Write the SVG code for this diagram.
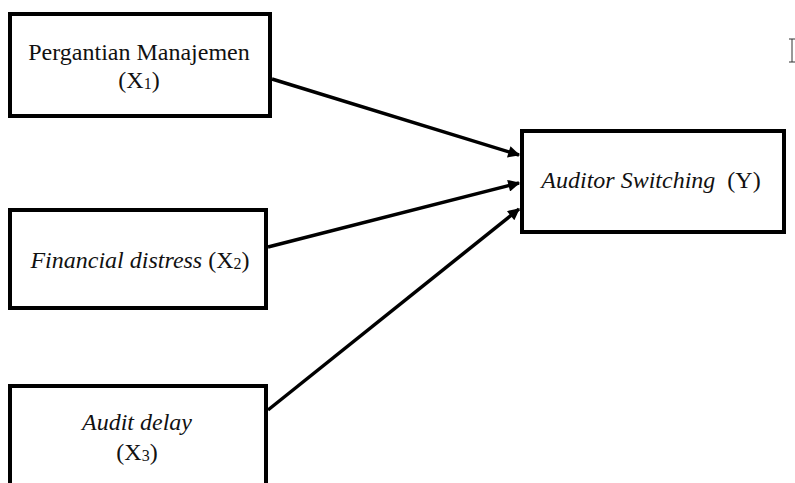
<svg xmlns="http://www.w3.org/2000/svg" width="795" height="483" viewBox="0 0 795 483">
<style>
.box{fill:#fff;stroke:#000;stroke-width:4}
.lbl{font-family:"Liberation Serif","Times New Roman",serif;font-size:24px;fill:#111;text-anchor:middle}
.it{font-style:italic}
.sub{font-size:16px}
.conn{stroke:#000;stroke-width:3.5;fill:none;marker-end:url(#ah)}
</style>
<defs>
<marker id="ah" viewBox="0 0 10 10" refX="9" refY="5" markerWidth="4" markerHeight="3.4" orient="auto" markerUnits="strokeWidth">
<path d="M0,0 L10,5 L0,10 z" fill="#000"/>
</marker>
</defs>
<rect width="795" height="483" fill="#fff"/>
<g id="connectors">
<line class="conn" x1="272" y1="79" x2="519" y2="155"/>
<line class="conn" x1="268" y1="247" x2="519" y2="183"/>
<line class="conn" x1="268" y1="410" x2="519" y2="209"/>
</g>
<g id="node-x1">
<rect class="box" x="10" y="14" width="260" height="102"/>
<text class="lbl" x="139" y="60">Pergantian Manajemen</text>
<text class="lbl" x="139" y="88">(X<tspan class="sub" dy="1">1</tspan><tspan dy="-1">)</tspan></text>
</g>
<g id="node-x2">
<rect class="box" x="10" y="210" width="256" height="98"/>
<text class="lbl" x="140" y="268"><tspan class="it">Financial distress</tspan> (X<tspan class="sub" dy="1">2</tspan><tspan dy="-1">)</tspan></text>
</g>
<g id="node-x3">
<rect class="box" x="10" y="386" width="256" height="110"/>
<text class="lbl it" x="137" y="430">Audit delay</text>
<text class="lbl" x="137" y="460">(X<tspan class="sub" dy="1">3</tspan><tspan dy="-1">)</tspan></text>
</g>
<g id="node-y">
<rect class="box" x="522" y="131" width="262" height="101"/>
<text class="lbl" x="651" y="188"><tspan class="it">Auditor Switching</tspan>&#160; (Y)</text>
</g>
<path d="M789,39 h3 v23 h-3 M792,39 h3 M792,62 h3" stroke="#333" stroke-width="1" fill="none"/>
</svg>
